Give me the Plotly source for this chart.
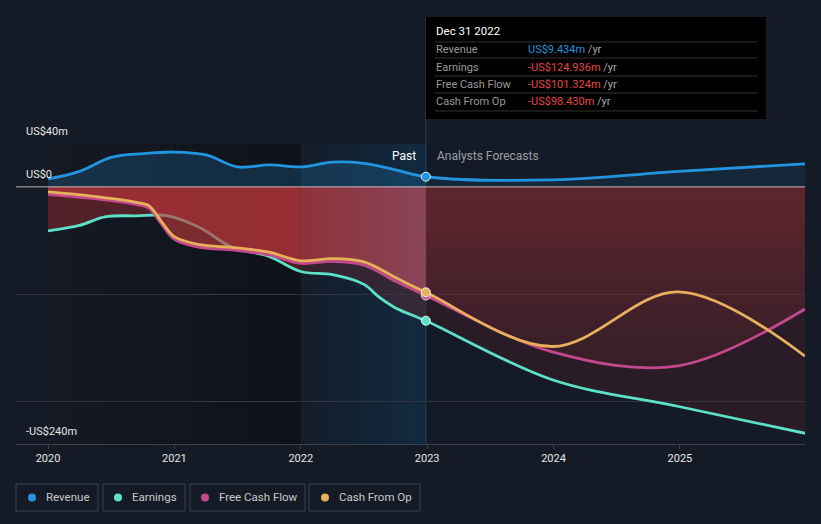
import plotly.graph_objects as go

# ---------------- data (US$ m) ----------------
rev_past_x = [2020.0, 2020.25, 2020.5, 2020.75, 2021.0, 2021.25, 2021.5, 2021.75, 2022.0, 2022.25, 2022.5, 2022.75, 2022.99]
rev_past = [7.4, 14.5, 27.5, 31.0, 32.5, 29.8, 18.6, 20.5, 18.6, 23.0, 22.0, 15.8, 9.434]

earn_past_x = [2020.0, 2020.25, 2020.45, 2020.7, 2020.95, 2021.2, 2021.45, 2021.75, 2022.0, 2022.25, 2022.5, 2022.62, 2022.75, 2022.99]
earn_past = [-41, -36, -28, -27, -27, -38, -56, -65, -79, -82, -91, -103, -113, -124.936]

cf_past_x = [2020.0, 2020.4, 2020.72, 2020.8, 2020.9, 2021.0, 2021.2, 2021.47, 2021.75, 2022.0, 2022.25, 2022.5, 2022.75, 2022.99]
cfo_past = [-4.7, -9.3, -14.9, -17.7, -32.6, -46.5, -54, -56.7, -61, -69, -67, -70, -84.6, -98.43]
fcf_past = [-7, -11.5, -17, -20, -35, -49, -56.5, -59, -63.5, -71.5, -69.5, -73, -88, -101.324]

fc_x = [2022.99, 2023.99, 2024.99, 2025.99]
rev_fc = [9.434, 6.5, 14.5, 21.5]
earn_fc = [-124.936, -180, -205, -230]
cfo_fc = [-98.43, -149, -98, -158]
fcf_fc = [-101.324, -154, -167, -114]

year_ticks = [2020, 2021, 2022, 2023, 2024, 2025]
year_labels = ["2020", "2021", "2022", "2023", "2024", "2025"]
y_grid = [40, -100, -200]
y_labels = [(40, "US$40m"), (0, "US$0"), (-240, "-US$240m")]

tip_title = "Dec 31 2022"
tip_rows = [("Revenue", "US$9.434m", "#2394df"),
            ("Earnings", "-US$124.936m", "#e84545"),
            ("Free Cash Flow", "-US$101.324m", "#e84545"),
            ("Cash From Op", "-US$98.430m", "#e84545")]
legend_items = [("Revenue", "#2394df"), ("Earnings", "#5ce1c8"),
                ("Free Cash Flow", "#c4488c"), ("Cash From Op", "#e6ad5c")]

C_REV, C_EARN, C_FCF, C_CFO = "#2394df", "#5ce1c8", "#c4488c", "#e8b05a"
BG = "#151b26"
FONT = "Roboto"

# ---------------- geometry helpers ----------------
W, H = 821, 524
L, R, T, B = 16, 16, 144, 80
PW, PH = W - L - R, H - T - B
def px(x):
    return (x - L) / PW
def py(y):
    return 1 - (y - T) / PH

X0 = 2020 - 32 / ((805 - 48) / 5.99)
X1 = 2025.99

fig = go.Figure()

def split(xs, ys, a, b):
    px_, py_ = [], []
    for x, y in zip(xs, ys):
        if a - 1e-9 <= x <= b + 1e-9:
            px_.append(x); py_.append(y)
    return px_, py_

def fill(xs, ys, color=None, grad=None):
    kw = dict(x=xs, y=ys, mode="lines", line=dict(width=0, shape="spline"),
              fill="tozeroy", hoverinfo="skip", showlegend=False)
    if grad is not None:
        kw["fillgradient"] = grad
        kw["fillcolor"] = "rgba(0,0,0,0)"
    else:
        kw["fillcolor"] = color
    fig.add_trace(go.Scatter(**kw))

# revenue fills
fill(rev_past_x, rev_past, "rgba(35,148,223,0.20)")
fill(fc_x, rev_fc, "rgba(35,148,223,0.10)")

# earnings fills
ex, ey = split(earn_past_x, earn_past, 2020.0, 2022.0)
fill(ex, ey, "rgba(200,50,55,0.35)")
ex, ey = split(earn_past_x, earn_past, 2022.0, 2022.99)
fill(ex, ey, "rgba(95,40,52,0.45)")
fill(fc_x, earn_fc, "rgba(110,35,40,0.24)")

# earnings line
fig.add_trace(go.Scatter(x=earn_past_x + fc_x[1:], y=earn_past + earn_fc[1:], mode="lines",
                         line=dict(color=C_EARN, width=2.8, shape="spline"),
                         hoverinfo="skip", showlegend=False))

# free cash flow fills
fx, fy = split(cf_past_x, fcf_past, 2020.0, 2022.0)
fill(fx, fy, "rgba(190,55,58,0.63)")
fx, fy = split(cf_past_x, fcf_past, 2022.0, 2022.99)
fill(fx, fy, grad=dict(type="horizontal",
                       colorscale=[[0, "rgba(188,58,64,0.66)"], [1, "rgba(178,82,104,0.68)"]]))
fill(fc_x, fcf_fc, grad=dict(type="vertical",
                             colorscale=[[0, "rgba(140,45,52,0.12)"], [1, "rgba(140,45,52,0.55)"]]))

# lines
fig.add_trace(go.Scatter(x=rev_past_x + fc_x[1:], y=rev_past + rev_fc[1:], mode="lines",
                         line=dict(color=C_REV, width=2.8, shape="spline"),
                         hoverinfo="skip", showlegend=False))
fig.add_trace(go.Scatter(x=cf_past_x + fc_x[1:], y=fcf_past + fcf_fc[1:], mode="lines",
                         line=dict(color=C_FCF, width=2.8, shape="spline"),
                         hoverinfo="skip", showlegend=False))
fig.add_trace(go.Scatter(x=cf_past_x + fc_x[1:], y=cfo_past + cfo_fc[1:], mode="lines",
                         line=dict(color=C_CFO, width=2.8, shape="spline"),
                         hoverinfo="skip", showlegend=False))

# markers at the split point
for yv, c in [(rev_fc[0], C_REV), (earn_fc[0], C_EARN), (fcf_fc[0], C_FCF), (cfo_fc[0], C_CFO)]:
    fig.add_trace(go.Scatter(x=[fc_x[0]], y=[yv], mode="markers",
                             marker=dict(size=9, color=c, line=dict(color="rgba(255,255,255,0.85)", width=1)),
                             hoverinfo="skip", showlegend=False))

shapes = []
# dark gradient band (2020 -> 2022)
N = 14
for i in range(N):
    a = 2020.0 + (2022.0 - 2020.0) * i / N
    b = 2020.0 + (2022.0 - 2020.0) * (i + 1) / N
    alpha = 0.04 + 0.26 * (i + 0.5) / N
    shapes.append(dict(type="rect", xref="x", yref="paper", x0=a, x1=b, y0=0, y1=1,
                       fillcolor=f"rgba(0,0,0,{alpha:.3f})", line=dict(width=0), layer="below"))
# blue highlight band (2022 -> 2023)
for i in range(N):
    a = 2022.0 + (2022.99 - 2022.0) * i / N
    b = 2022.0 + (2022.99 - 2022.0) * (i + 1) / N
    alpha = 0.06 + 0.30 * (i + 0.5) / N
    shapes.append(dict(type="rect", xref="x", yref="paper", x0=a, x1=b, y0=0, y1=1,
                       fillcolor=f"rgba(12,70,112,{alpha:.3f})", line=dict(width=0), layer="below"))

# vertical marker line
shapes.append(dict(type="line", xref="x", yref="paper", x0=2022.99, x1=2022.99, y0=0, y1=py(17),
                   line=dict(color="rgba(60,90,120,0.55)", width=1), layer="below"))
# zero line
shapes.append(dict(type="line", xref="paper", yref="y", x0=0, x1=1, y0=0, y1=0,
                   line=dict(color="rgba(235,235,235,0.75)", width=1), layer="above"))

# tooltip box
shapes.append(dict(type="rect", xref="paper", yref="paper", x0=px(426), x1=px(766), y0=py(119), y1=py(17),
                   fillcolor="#000000", line=dict(width=0), layer="above"))
for yy in [42, 58, 76, 93, 111]:
    shapes.append(dict(type="line", xref="paper", yref="paper", x0=px(435), x1=px(757), y0=py(yy), y1=py(yy),
                       line=dict(color="#333333", width=1), layer="above"))

# legend boxes
boxes = [(16, 98), (103, 185), (190, 305), (309, 420)]
dots = [32, 118, 205, 325]
texts_x = [44, 130, 217, 337]
for (b0, b1), dxp, (name, col) in zip(boxes, dots, legend_items):
    shapes.append(dict(type="rect", xref="paper", yref="paper", x0=px(b0), x1=px(b1), y0=py(511), y1=py(484),
                       fillcolor="rgba(0,0,0,0)", line=dict(color="#3a404c", width=1), layer="above"))
    shapes.append(dict(type="circle", xref="paper", yref="paper", x0=px(dxp - 4), x1=px(dxp + 4),
                       y0=py(501.5), y1=py(493.5), fillcolor=col, line=dict(width=0), layer="above"))

ann = []
for yv, txt in y_labels:
    ann.append(dict(xref="paper", yref="y", x=px(24), y=yv, text=txt, showarrow=False,
                    xanchor="left", yanchor="bottom", yshift=4,
                    font=dict(family=FONT, size=11, color="#e6e6e6")))
ann.append(dict(xref="paper", yref="paper", x=px(418), y=py(156), text="Past", showarrow=False,
                xanchor="right", yanchor="middle", font=dict(family=FONT, size=12, color="#ffffff")))
ann.append(dict(xref="paper", yref="paper", x=px(435), y=py(156), text="Analysts Forecasts", showarrow=False,
                xanchor="left", yanchor="middle", font=dict(family=FONT, size=12, color="#9a9ea6")))
ann.append(dict(xref="paper", yref="paper", x=px(434), y=py(31), text=tip_title, showarrow=False,
                xanchor="left", yanchor="middle", font=dict(family=FONT, size=11.5, color="#ffffff")))
row_y = [49, 67, 84, 102]
for (lab, val, col), yy in zip(tip_rows, row_y):
    ann.append(dict(xref="paper", yref="paper", x=px(434), y=py(yy), text=lab, showarrow=False,
                    xanchor="left", yanchor="middle", font=dict(family=FONT, size=11, color="#9a9a9a")))
    ann.append(dict(xref="paper", yref="paper", x=px(526), y=py(yy),
                    text=f"<span style='color:{col}'>{val}</span> /yr", showarrow=False,
                    xanchor="left", yanchor="middle", font=dict(family=FONT, size=11, color="#a8a8a8")))
for tx, (name, col) in zip(texts_x, legend_items):
    ann.append(dict(xref="paper", yref="paper", x=px(tx), y=py(497.5), text=name, showarrow=False,
                    xanchor="left", yanchor="middle", font=dict(family=FONT, size=11.5, color="#c8c8c8")))

fig.update_layout(
    width=W, height=H, margin=dict(l=L, r=R, t=T, b=B),
    paper_bgcolor=BG, plot_bgcolor=BG, showlegend=False,
    shapes=shapes, annotations=ann,
    xaxis=dict(range=[X0, X1], tickvals=year_ticks, ticktext=year_labels, showgrid=False,
               zeroline=False, showline=True, linecolor="#3b404b", linewidth=1,
               ticks="outside", ticklen=4, tickcolor="#3b404b",
               tickfont=dict(family=FONT, size=11, color="#e6e6e6"), fixedrange=True),
    yaxis=dict(range=[-240, 40], tickvals=y_grid, showticklabels=False, showgrid=True,
               gridcolor="#30353f", gridwidth=1, zeroline=False, fixedrange=True),
)

fig.write_html("out.html")
